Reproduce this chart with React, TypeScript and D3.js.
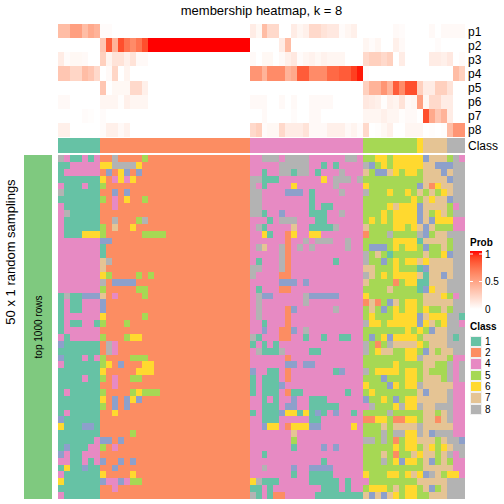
import React from "react";
import * as d3 from "d3";

const probLabels = ["p1", "p2", "p3", "p4", "p5", "p6", "p7", "p8"];
const classCounts: [string, number][] = [["1", 7], ["2", 25], ["4", 19], ["5", 9], ["6", 1], ["7", 4], ["8", 3]];
const classColors: Record<string, string> = {
  "1": "#66C2A5", "2": "#FC8D62", "3": "#8DA0CB", "4": "#E78AC3",
  "5": "#A6D854", "6": "#FFD92F", "7": "#E5C494", "8": "#B3B3B3",
};
const legendClasses = ["1", "2", "4", "5", "6", "7", "8"];

// membership probabilities: class-1 columns, class-2 head (rest 0 or 1), class-4 columns, remaining columns
const p1 = [.35,.35,.5,.5,.35,.45,.4, .02,.02,0,0,0,0,0,0,0,0,0,0,0,0,0,0,0,0,0,0,0,0,0,0,0, .1,.04,.35,.2,.2,0,0,.1,.05,.08,.2,.2,.15,.12,.12,.02,.05,.08,0, 0,0,0,0,0,.03,.02,0,0,0,0,.03,0,.03,.03,.03,.03];
const p2 = [0,0,0,0,0,0,0, .3,.8,.4,.85,.7,.6,.7,.85,1,1,1,1,1,1,1,1,1,1,1,1,1,1,1,1,1, 0,0,0,0,0,.1,.35,0,0,0,0,0,0,0,0,0,0,0,0, .05,.02,.05,0,0,.08,.03,0,0,0,0,0,.02,0,0,0,0];
const p3 = [.1,.02,.04,.04,.03,0,0, .25,.06,.15,.15,.08,.15,.03,.03,0,0,0,0,0,0,0,0,0,0,0,0,0,0,0,0,0, .03,0,.04,.04,0,.03,.08,.12,.02,.05,.07,.04,.07,.05,.05,.05,0,0,0, .2,.25,.25,.2,.25,0,.1,0,0,0,0,.1,.1,.08,.12,0,.02];
const p4 = [.3,.3,.22,.22,.35,.3,.2, 0,.03,.22,0,.06,0,0,0,0,0,0,0,0,0,0,0,0,0,0,0,0,0,0,0,0, .55,.55,.4,.6,.6,.6,.4,.45,.8,.8,.6,.6,.6,.75,.75,.8,.8,.9,.98, .02,0,0,0,0,0,0,0,0,0,0,0,0,0,0,.35,.25];
const p5 = [0,0,0,0,0,0,0, .3,0,.04,.04,.04,.2,.2,.08,0,0,0,0,0,0,0,0,0,0,0,0,0,0,0,0,0, 0,0,0,0,0,0,0,0,0,0,0,0,0,0,0,0,0,0,0, .25,.4,.4,.55,.4,.8,.6,.85,.85,.25,.1,.1,.25,.25,.15,0,0];
const p6 = [.03,.03,0,0,0,0,0, .05,.05,.05,.01,.08,.05,.05,.05,0,0,0,0,0,0,0,0,0,0,0,0,0,0,0,0,0, .03,.03,.03,0,0,.03,0,.03,0,0,.03,.03,.03,.03,0,0,0,0,0, .12,.1,.08,.01,.08,.06,.15,.03,.05,.5,.05,.2,.2,.1,.1,0,0];
const p7 = [0,0,0,0,.02,.01,0, .02,0,0,0,0,0,0,0,0,0,0,0,0,0,0,0,0,0,0,0,0,0,0,0,0, 0,0,.03,0,0,0,0,.02,0,0,.03,.03,0,0,0,0,0,0,0, .05,.05,.05,.08,.05,.05,.01,.03,.03,0,.85,.45,.3,.4,.1,0,0];
const p8 = [.08,.08,0,0,0,0,0, .02,.08,.08,.03,.07,0,0,0,0,0,0,0,0,0,0,0,0,0,0,0,0,0,0,0,0, .2,.25,.02,.04,.04,.2,.1,.1,.1,.15,.03,.03,.03,.08,.08,.08,.03,.06,.02, .2,0,.01,.04,.08,0,0,.05,.05,.05,0,.01,0,.01,.35,.55,.55];
const probRows = [p1, p2, p3, p4, p5, p6, p7, p8];

// sampled classes, 50 rows; each block is one column group
const blockA = [
  "8411414","1144444","1444444","1111111","4111411","8111111","1111111","4111111","4811111","4111111",
  "4111111","4111666","4444444","4444444","4444444","4444444","4444444","4444444","4444444","4444444",
  "1811333","1411444","1411444","1444444","1411441","1444444","4144444","3111111","1111111","3111414",
  "4111111","1111111","1111411","1111111","1411111","1111111","1111111","1411111","3111111","6111331",
  "1111111","1111114","1311144","3411444","4411414","1611311","4111111","6111111","1111111","4111111",
];
const blockB = [
  "22822225","66888862","23263232","62464622","5","22323","52426225","224","2","22822258",
  "52722622","52222225555","33","1","1","78","7","65222252522","82333322","52222255",
  "72422225","3","3","62222225","52225","","52225662","284","284","52222555",
  "562322266","622222666","5242255","224","5222256555","6232363","52323","22622","","",
  "222225","33232","5242","","32232322","223","622226","3443455","224","",
];
const blockC = [
  "4488848888444444884","4444488888441414444","4414488188414448444","8811144444446488848","8414444644444484444",
  "8844443334144448444","8844444444144444444","8844444444141144444","8814434444111448444","4441488844411444444",
  "4814444744111184444","4461442644664444444","4444442448488844844","4874482484844444844","4444482444444444444",
  "4144482444444414444","8844482444444444444","8444422444444444444","4444433343444444444","4144422444444444444",
  "4833444448333334444","4844444448444444444","4844442344444484444","4844442444444444444","4414442444444444444",
  "4434422348444444444","8144422441441441144","1414144444444444444","4811184444114444444","4444442444444444444",
  "4444443343344444444","3441142444444413444","1411142444444444444","1411134444444444444","1411142114444444144",
  "4414144344111444444","4411143344111114444","1411136616131434414","4411144444114444444","4436642666334444464",
  "4444444744444444444","4444444544444444444","4444444144443434444","4414444444444444444","4444444444441444444",
  "4484444344333344444","4444444144111144444","6811144444111114144","1141444444441114144","8141224444411111111",
];
const blockD = [
  "55665666663777584","83565666667733388","75337656657773788","55555555557777388","65555555537267788",
  "85556556575756788","55555555657677388","55556766637777548","55565666637567588","56565666637366644",
  "75555665673755544","25558555583577888","55555666617777588","53335656653557588","85751555557556388",
  "85535656676777788","77555655513777788","87565666671773788","75555256611777888","55557555513677888",
  "65555555557776548","27253756657777788","57535656656557588","56555666637666881","86656666636756884",
  "55555556565377888","53563666657777818","85258777765777888","85677556653757788","55555556687777544",
  "55555655557755848","85666656657555848","55535556657775848","65553656687777744","56555555573777844",
  "35565356677777844","48555686687788844","55558555557757844","22665226657727844","55575777787777744",
  "55585886687388844","88585256677757883","55555656657656788","55575255767757848","55585636657357544",
  "55555555557777744","65556656763875664","45555555577777888","56665756657357888","73737656655777888",
];

const pad2 = (s: string) => s.padEnd(25, "2");
const classRows = blockA.map((a, i) => a + pad2(blockB[i]) + blockC[i] + blockD[i]);
const columnClasses = classCounts.flatMap(([c, n]) => d3.range(n).map(() => c));
const nCols = columnClasses.length;

const x = d3.scaleBand<number>().domain(d3.range(nCols)).range([58, 465]);
const yTop = d3.scaleBand<number>().domain(d3.range(probRows.length)).range([24, 137]);
const yMain = d3.scaleBand<number>().domain(d3.range(classRows.length)).range([155, 499]);
const probColor = d3.scaleLinear<string>().domain([0, 1]).range(["#ffffff", "#ff0000"]).interpolate(d3.interpolateLab);
const legendY = d3.scaleLinear().domain([1, 0]).range([254, 309]);
const legendProbTicks = [1, 0.5, 0];
const legendStops = d3.range(0, 1.001, 0.1);
const legendRow = d3.scaleBand<string>().domain(legendClasses).range([335.5, 415]);

const font = "'Liberation Sans', Arial, Helvetica, sans-serif";

export default function App() {
  return (
    <svg width={504} height={504} style={{ position: "absolute", left: 0, top: 0, background: "#fff" }} fontFamily={font}>
      <defs>
        <linearGradient id="probGrad" x1="0" x2="0" y1="1" y2="0">
          {legendStops.map((s) => (
            <stop key={s} offset={s} stopColor={probColor(s)} />
          ))}
        </linearGradient>
      </defs>
      <text x={261.5} y={15} textAnchor="middle" fontSize={13} fill="#000">membership heatmap, k = 8</text>

      <g shapeRendering="crispEdges">
        {probRows.map((row, r) =>
          row.map((v, c) => (
            <rect key={`p${r}-${c}`} x={x(c)} y={yTop(r)} width={x.bandwidth()} height={yTop.bandwidth()} fill={probColor(v)} />
          ))
        )}
        {columnClasses.map((c, i) => (
          <rect key={`c${i}`} x={x(i)} y={138} width={x.bandwidth()} height={15} fill={classColors[c]} />
        ))}
        {classRows.map((row, r) =>
          row.split("").map((c, i) => (
            <rect key={`m${r}-${i}`} x={x(i)} y={yMain(r)} width={x.bandwidth()} height={yMain.bandwidth()} fill={classColors[c]} />
          ))
        )}
        <rect x={24} y={155} width={28} height={344} fill="#7FC97F" />
      </g>

      {probLabels.map((p, r) => (
        <text key={p} x={468} y={yTop(r)! + yTop.bandwidth() / 2 + 4.5} fontSize={12} fill="#000">{p}</text>
      ))}
      <text x={468} y={149.5} fontSize={12} fill="#000">Class</text>

      <text transform="translate(15,252) rotate(-90)" textAnchor="middle" fontSize={13} fill="#000">50 x 1 random samplings</text>
      <text transform="translate(42,327) rotate(-90)" textAnchor="middle" fontSize={10} fill="#000">top 1000 rows</text>

      <text x={470} y={246} fontSize={10} fontWeight="bold" fill="#000">Prob</text>
      <rect x={470} y={251} width={12} height={58} fill="url(#probGrad)" />
      {legendProbTicks.map((t) => (
        <g key={t}>
          <line x1={470} x2={473} y1={legendY(t)} y2={legendY(t)} stroke="#fff" strokeWidth={1} />
          <line x1={479} x2={482} y1={legendY(t)} y2={legendY(t)} stroke="#fff" strokeWidth={1} />
          <text x={485} y={legendY(t) + 3.5} fontSize={10} fill="#000">{t}</text>
        </g>
      ))}

      <text x={470} y={330} fontSize={10} fontWeight="bold" fill="#000">Class</text>
      {legendClasses.map((c) => (
        <g key={c}>
          <rect x={470} y={legendRow(c)} width={12} height={legendRow.bandwidth()} fill="#f0f0f0" shapeRendering="crispEdges" />
          <rect x={471} y={legendRow(c)! + 1} width={10} height={legendRow.bandwidth() - 2} fill={classColors[c]} shapeRendering="crispEdges" />
          <text x={485} y={legendRow(c)! + legendRow.bandwidth() / 2 + 3.5} fontSize={10} fill="#000">{c}</text>
        </g>
      ))}
    </svg>
  );
}
